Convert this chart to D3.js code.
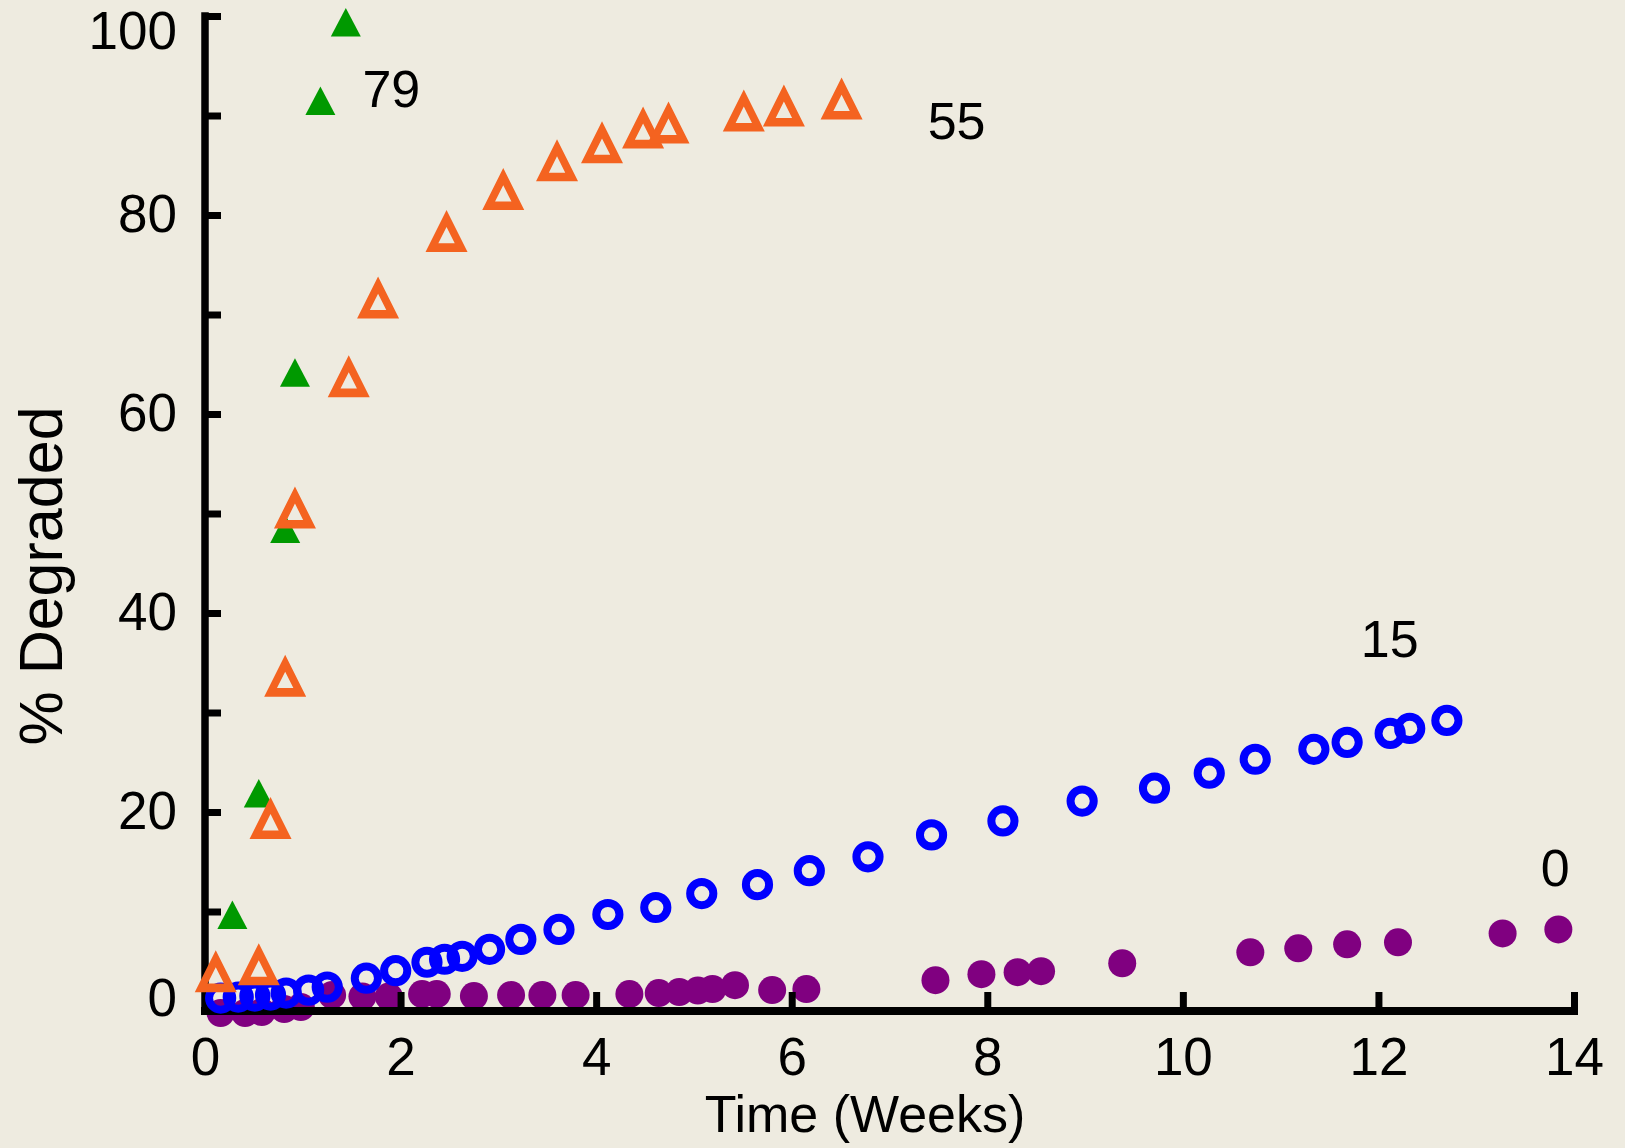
<!DOCTYPE html>
<html>
<head>
<meta charset="utf-8">
<script src="https://cdn.jsdelivr.net/npm/d3@7"></script>
<style>
  html, body { margin: 0; padding: 0; background: #EEEBE0; }
  svg { display: block; }
  text { font-family: "Liberation Sans", Arial, Helvetica, sans-serif; fill: #000; }
</style>
</head>
<body>
<svg id="chart" width="1625" height="1148"></svg>
<script>
// ---- data: time in weeks vs. percent degraded, one pair of arrays per series ----
const weeks79 = [0.28, 0.55, 0.82, 0.92, 1.18, 1.44];
const pct79   = [9.2, 21.4, 48.0, 63.7, 91.0, 98.9];

const weeks55 = [0.11, 0.55, 0.67, 0.82, 0.92, 1.47, 1.77, 2.47, 3.05, 3.60, 4.06, 4.48, 4.74, 5.51, 5.92, 6.51];
const pct55   = [3.3, 4.0, 18.7, 33.0, 49.9, 63.1, 71.0, 77.7, 81.9, 84.8, 86.6, 88.1, 88.6, 89.8, 90.3, 91.0];

const weeks15 = [0.16, 0.34, 0.51, 0.67, 0.83, 1.06, 1.25, 1.65, 1.95, 2.27, 2.45, 2.63, 2.91, 3.23, 3.62, 4.12,
                 4.61, 5.08, 5.65, 6.18, 6.78, 7.43, 8.16, 8.97, 9.71, 10.27, 10.74, 11.34, 11.68, 12.12, 12.32, 12.70];
const pct15   = [1.3, 1.4, 1.5, 1.6, 1.8, 2.1, 2.4, 3.3, 4.05, 4.9, 5.2, 5.5, 6.2, 7.2, 8.2, 9.7,
                 10.4, 11.8, 12.7, 14.1, 15.5, 17.7, 19.1, 21.1, 22.4, 23.9, 25.3, 26.3, 27.0, 27.9, 28.4, 29.2];

const weeks0 = [0.16, 0.41, 0.58, 0.81, 0.98, 1.30, 1.61, 1.88, 2.22, 2.37, 2.75, 3.13, 3.45, 3.79, 4.34, 4.64,
                4.85, 5.04, 5.19, 5.42, 5.80, 6.15, 7.47, 7.94, 8.31, 8.55, 9.38, 10.69, 11.18, 11.68, 12.20, 13.27, 13.84];
const pct0   = [-0.2, -0.2, -0.1, 0.2, 0.4, 1.6, 1.45, 1.45, 1.7, 1.7, 1.5, 1.6, 1.6, 1.6, 1.7, 1.8,
                1.9, 2.05, 2.2, 2.6, 2.1, 2.2, 3.1, 3.7, 3.9, 4.0, 4.8, 5.9, 6.3, 6.7, 6.9, 7.8, 8.2];

// axis ticks
const xTicks = [0, 2, 4, 6, 8, 10, 12, 14];
const yMajorTicks = [0, 20, 40, 60, 80, 100];
const yMinorTicks = [10, 30, 50, 70, 90];

// series name labels, anchored in data units (left edge, baseline)
const seriesLabels = ["79", "55", "15", "0"];
const labelWeeks = [1.61, 7.39, 11.82, 13.66];
const labelPct   = [90.9, 87.6, 35.6, 12.6];

// ---- layout ----
const svg = d3.select("#chart");
const W = 1625, H = 1148;
svg.append("rect").attr("width", W).attr("height", H).attr("fill", "#EEEBE0");

const x = d3.scaleLinear().domain([0, 14]).range([205, 1574]);
const y = d3.scaleLinear().domain([0, 100]).range([1011, 16]);

const FONT = 53;

// custom triangle symbol: centroid at origin, width = size, height = 0.95 * width
const triFilled = {
  draw(ctx, w) {
    const h = w * 0.95;
    ctx.moveTo(0, -2 * h / 3);
    ctx.lineTo(w / 2, h / 3);
    ctx.lineTo(-w / 2, h / 3);
    ctx.closePath();
  }
};
// hollow triangle: outer outline with a concentric inner hole (evenodd fill)
const triHollow = {
  draw(ctx, w) {
    const h = w;
    ctx.moveTo(0, -2 * h / 3);
    ctx.lineTo(w / 2, h / 3);
    ctx.lineTo(-w / 2, h / 3);
    ctx.closePath();
    const k = 0.39;
    ctx.moveTo(0, -2 * h * k / 3);
    ctx.lineTo(-w * k / 2, h * k / 3);
    ctx.lineTo(w * k / 2, h * k / 3);
    ctx.closePath();
  }
};

// ---- purple filled circles (drawn beneath the axes) ----
svg.append("g").selectAll("circle")
  .data(d3.zip(weeks0, pct0))
  .join("circle")
  .attr("cx", d => x(d[0]))
  .attr("cy", d => y(d[1]))
  .attr("r", 14)
  .attr("fill", "#800080");

// ---- axes ----
const axisStyle = g => {
  g.select(".domain").remove();
  g.selectAll(".tick line").attr("stroke", "#000").attr("stroke-width", 7);
  g.selectAll(".tick text").attr("font-size", FONT).attr("fill", "#000")
    .attr("font-family", '"Liberation Sans", Arial, sans-serif');
};

const xAxis = svg.append("g")
  .attr("transform", `translate(0,${y(0)})`)
  .call(d3.axisBottom(x).tickValues(xTicks).tickFormat(d3.format("d"))
    .tickSizeInner(-19).tickSizeOuter(0).tickPadding(26))
  .call(axisStyle);

const yAxis = svg.append("g")
  .attr("transform", `translate(${x(0)},0)`)
  .call(d3.axisLeft(y).tickValues(yMajorTicks).tickFormat(d3.format("d"))
    .tickSizeInner(-16).tickSizeOuter(0).tickPadding(28))
  .call(axisStyle);
// keep the end labels inside the frame
yAxis.selectAll(".tick text")
  .attr("transform", d => d === 100 ? "translate(0,16)" : d === 0 ? "translate(0,-12)" : null);

svg.append("g")
  .attr("transform", `translate(${x(0)},0)`)
  .call(d3.axisLeft(y).tickValues(yMinorTicks).tickFormat("")
    .tickSizeInner(-16).tickSizeOuter(0))
  .call(axisStyle);

// axis lines
svg.append("line")
  .attr("x1", x(0)).attr("x2", x(0)).attr("y1", y(100)).attr("y2", y(0))
  .attr("stroke", "#000").attr("stroke-width", 7.5).attr("stroke-linecap", "square");
svg.append("line")
  .attr("x1", x(0)).attr("x2", x(14)).attr("y1", y(0)).attr("y2", y(0))
  .attr("stroke", "#000").attr("stroke-width", 8).attr("stroke-linecap", "square");

// ---- blue open circles ----
svg.append("g").selectAll("circle")
  .data(d3.zip(weeks15, pct15))
  .join("circle")
  .attr("cx", d => x(d[0]))
  .attr("cy", d => y(d[1]))
  .attr("r", 11.6)
  .attr("fill", "none")
  .attr("stroke", "#0000FF")
  .attr("stroke-width", 8);

// ---- green filled triangles ----
svg.append("g").selectAll("path")
  .data(d3.zip(weeks79, pct79))
  .join("path")
  .attr("transform", d => `translate(${x(d[0])},${y(d[1])})`)
  .attr("d", d3.symbol().type(triFilled).size(30))
  .attr("fill", "#009900");

// ---- orange hollow triangles ----
svg.append("g").selectAll("path")
  .data(d3.zip(weeks55, pct55))
  .join("path")
  .attr("transform", d => `translate(${x(d[0])},${y(d[1])})`)
  .attr("d", d3.symbol().type(triHollow).size(42))
  .attr("fill", "#F46320")
  .attr("fill-rule", "evenodd");

// ---- series labels ----
svg.append("g").selectAll("text")
  .data(d3.zip(seriesLabels, labelWeeks, labelPct))
  .join("text")
  .attr("x", d => x(d[1]))
  .attr("y", d => y(d[2]))
  .attr("font-size", 52)
  .text(d => d[0]);

// ---- axis titles ----
svg.append("text")
  .attr("x", 865).attr("y", 1132)
  .attr("text-anchor", "middle")
  .attr("font-size", 52)
  .text("Time (Weeks)");

svg.append("text")
  .attr("transform", "translate(62,576) rotate(-90)")
  .attr("text-anchor", "middle")
  .attr("font-size", 61)
  .text("% Degraded");
</script>
</body>
</html>
